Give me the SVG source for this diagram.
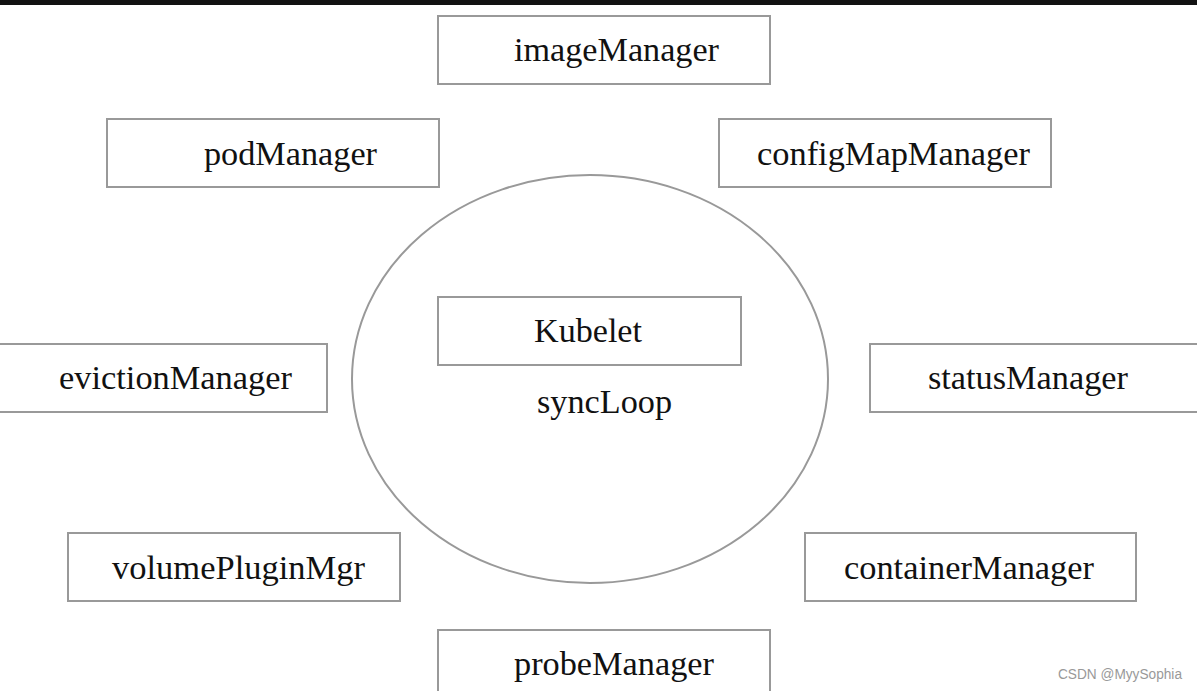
<svg xmlns="http://www.w3.org/2000/svg" width="1197" height="691" viewBox="0 0 1197 691">
<style>
.box{fill:#fff;stroke:#999;stroke-width:2}
.t{font-family:"Liberation Serif","Times New Roman",serif;font-size:33px;fill:#111}
.wm{font-family:"Liberation Sans",Arial,sans-serif;font-size:14px;fill:#999}
</style>
<rect x="0" y="0" width="1197" height="691" fill="#fff"/>
<rect x="0" y="0" width="1197" height="5" fill="#121212"/>
<g id="syncLoop">
<ellipse cx="590" cy="379" rx="238" ry="204" fill="none" stroke="#999" stroke-width="2"/>
<text class="t" x="537" y="413" textLength="135" lengthAdjust="spacingAndGlyphs">syncLoop</text>
</g>
<g id="kubelet"><rect class="box" x="438" y="297" width="303" height="68"/><text class="t" x="534" y="342" textLength="108" lengthAdjust="spacingAndGlyphs">Kubelet</text></g>
<g id="imageManager"><rect class="box" x="438" y="16" width="332" height="68"/><text class="t" x="514" y="61" textLength="205" lengthAdjust="spacingAndGlyphs">imageManager</text></g>
<g id="podManager"><rect class="box" x="107" y="119" width="332" height="68"/><text class="t" x="204" y="165" textLength="173" lengthAdjust="spacingAndGlyphs">podManager</text></g>
<g id="configMapManager"><rect class="box" x="719" y="119" width="332" height="68"/><text class="t" x="757" y="165" textLength="273" lengthAdjust="spacingAndGlyphs">configMapManager</text></g>
<g id="evictionManager"><rect class="box" x="-2" y="344" width="329" height="68"/><text class="t" x="59" y="389" textLength="233" lengthAdjust="spacingAndGlyphs">evictionManager</text></g>
<g id="statusManager"><rect class="box" x="870" y="344" width="332" height="68"/><text class="t" x="928" y="389" textLength="200" lengthAdjust="spacingAndGlyphs">statusManager</text></g>
<g id="volumePluginMgr"><rect class="box" x="68" y="533" width="332" height="68"/><text class="t" x="112" y="579" textLength="253" lengthAdjust="spacingAndGlyphs">volumePluginMgr</text></g>
<g id="containerManager"><rect class="box" x="805" y="533" width="331" height="68"/><text class="t" x="844" y="579" textLength="250" lengthAdjust="spacingAndGlyphs">containerManager</text></g>
<g id="probeManager"><rect class="box" x="438" y="630" width="332" height="68"/><text class="t" x="514" y="675" textLength="200" lengthAdjust="spacingAndGlyphs">probeManager</text></g>
<g id="connectors"></g>
<text class="wm" x="1058" y="679" textLength="124" lengthAdjust="spacingAndGlyphs">CSDN @MyySophia</text>
</svg>
